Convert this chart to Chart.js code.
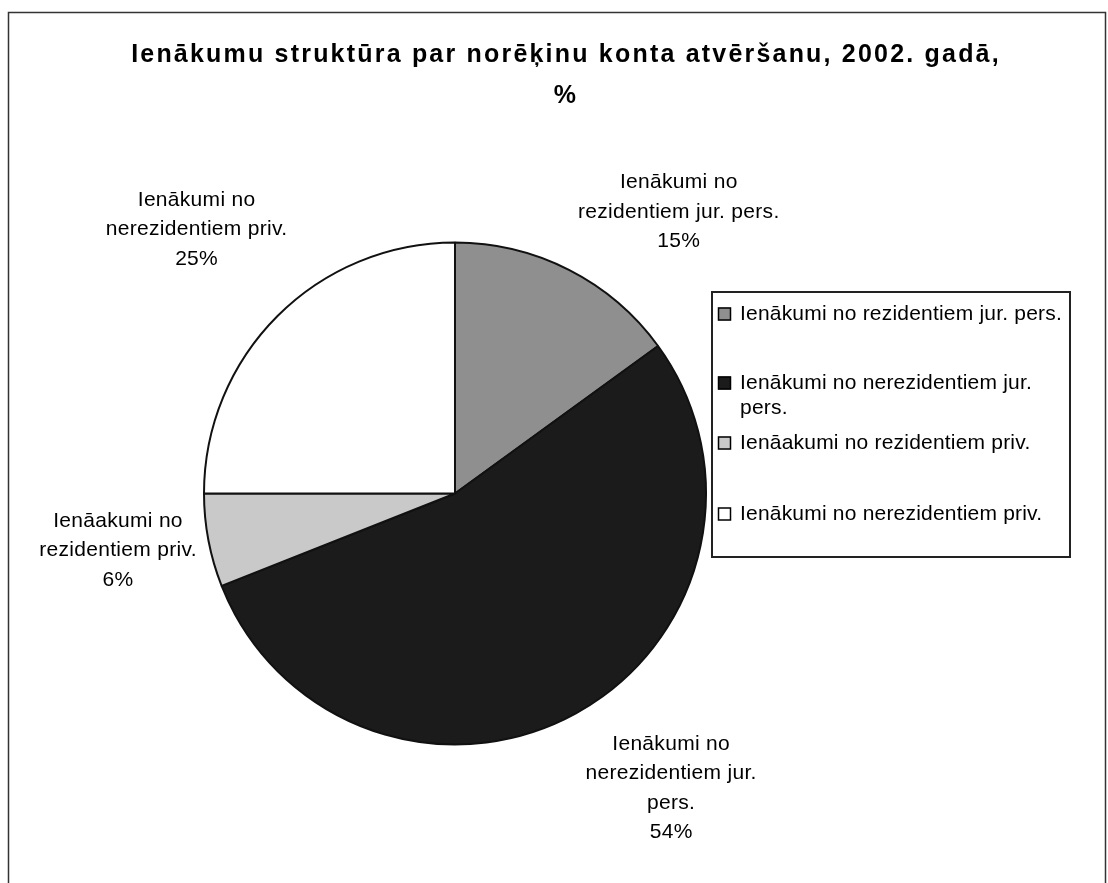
<!DOCTYPE html>
<html><head><meta charset="utf-8">
<script src="https://cdn.jsdelivr.net/npm/chart.js@4.4.1/dist/chart.umd.min.js"></script>
<style>html,body{margin:0;padding:0;background:#fff;}#wrap{width:1108px;height:883px;position:relative;}</style>
</head><body><div id="wrap"><canvas id="c" width="1108" height="883"></canvas></div>
<script>
const categories = [
  "Ienākumi no rezidentiem jur. pers.",
  "Ienākumi no nerezidentiem jur. pers.",
  "Ienāakumi no rezidentiem priv.",
  "Ienākumi no nerezidentiem priv."
];
const values = [15, 54, 6, 25];
const sliceLabelLines = [
  ["Ienākumi no", "rezidentiem jur. pers."],
  ["Ienākumi no", "nerezidentiem jur.", "pers."],
  ["Ienāakumi no", "rezidentiem priv."],
  ["Ienākumi no", "nerezidentiem priv."]
];
const legendLines = [
  ["Ienākumi no rezidentiem jur. pers."],
  ["Ienākumi no nerezidentiem jur.", "pers."],
  ["Ienāakumi no rezidentiem priv."],
  ["Ienākumi no nerezidentiem priv."]
];
const titleLines = ["Ienākumu struktūra par norēķinu konta atvēršanu, 2002. gadā,", "%"];
const colors = ["#8f8f8f", "#1b1b1b", "#c9c9c9", "#ffffff"];

const FONT = '"Liberation Sans", Arial, sans-serif';

const decor = {
  id: 'decor',
  beforeDraw(chart) {
    const ctx = chart.ctx;
    ctx.save();
    ctx.fillStyle = '#fff';
    ctx.fillRect(0, 0, chart.width, chart.height);
    ctx.strokeStyle = '#333';
    ctx.lineWidth = 1.5;
    ctx.strokeRect(8.5, 12.5, 1097, 890);
    ctx.restore();
  },
  afterDraw(chart) {
    const ctx = chart.ctx;
    ctx.save();
    // title
    ctx.fillStyle = '#000';
    ctx.font = 'bold 25px ' + FONT;
    ctx.letterSpacing = '2.2px';
    ctx.textAlign = 'center';
    ctx.textBaseline = 'alphabetic';
    ctx.fillText(titleLines[0], 566, 62);
    ctx.fillText(titleLines[1], 566, 103);

    // slice labels
    const meta = chart.getDatasetMeta(0);
    const total = values.reduce((a, b) => a + b, 0);
    const nudges = [[0, 4], [0, -2], [8, -38], [24, -28]];
    ctx.font = '21px ' + FONT;
    ctx.letterSpacing = '0.3px';
    const lh = 29.5;
    meta.data.forEach((arc, i) => {
      const p = arc.getProps(['x', 'y', 'startAngle', 'endAngle', 'outerRadius'], true);
      const mid = (p.startAngle + p.endAngle) / 2;
      const R = p.outerRadius + 20;
      const ax = p.x + Math.cos(mid) * R + nudges[i][0];
      const ay = p.y + Math.sin(mid) * R + nudges[i][1];
      const lines = sliceLabelLines[i].concat([Math.round(values[i] / total * 100) + '%']);
      let w = 0;
      lines.forEach(l => { w = Math.max(w, ctx.measureText(l).width); });
      const h = lines.length * lh;
      const left = Math.cos(mid) >= 0 ? ax : ax - w;
      const top = Math.sin(mid) >= 0 ? ay : ay - h;
      ctx.textAlign = 'center';
      ctx.textBaseline = 'middle';
      lines.forEach((l, k) => ctx.fillText(l, left + w / 2, top + lh * (k + 0.5)));
    });

    // legend
    ctx.letterSpacing = '0px';
    ctx.lineWidth = 2;
    ctx.strokeStyle = '#222';
    ctx.strokeRect(712, 292, 358, 265);
    const rowY = [314, 383, 443, 514];
    ctx.textAlign = 'left';
    ctx.textBaseline = 'middle';
    legendLines.forEach((lines, i) => {
      ctx.fillStyle = colors[i];
      ctx.fillRect(718, rowY[i] - 6.5, 13, 13);
      ctx.strokeStyle = '#000';
      ctx.lineWidth = 1.5;
      ctx.strokeRect(718.5, rowY[i] - 6, 12, 12);
      ctx.fillStyle = '#000';
      ctx.font = '21px ' + FONT;
      ctx.letterSpacing = '0.2px';
      lines.forEach((l, k) => ctx.fillText(l, 740, rowY[i] + k * 25));
      ctx.letterSpacing = '0px';
    });
    ctx.restore();
  }
};

new Chart(document.getElementById('c'), {
  type: 'pie',
  data: {
    labels: categories,
    datasets: [{
      data: values,
      backgroundColor: colors,
      borderColor: '#111',
      borderWidth: 2
    }]
  },
  options: {
    responsive: false,
    animation: false,
    layout: { padding: { left: 203, right: 401, top: 241, bottom: 137 } },
    plugins: { legend: { display: false }, title: { display: false }, tooltip: { enabled: false } }
  },
  plugins: [decor]
});
</script>
</body></html>
